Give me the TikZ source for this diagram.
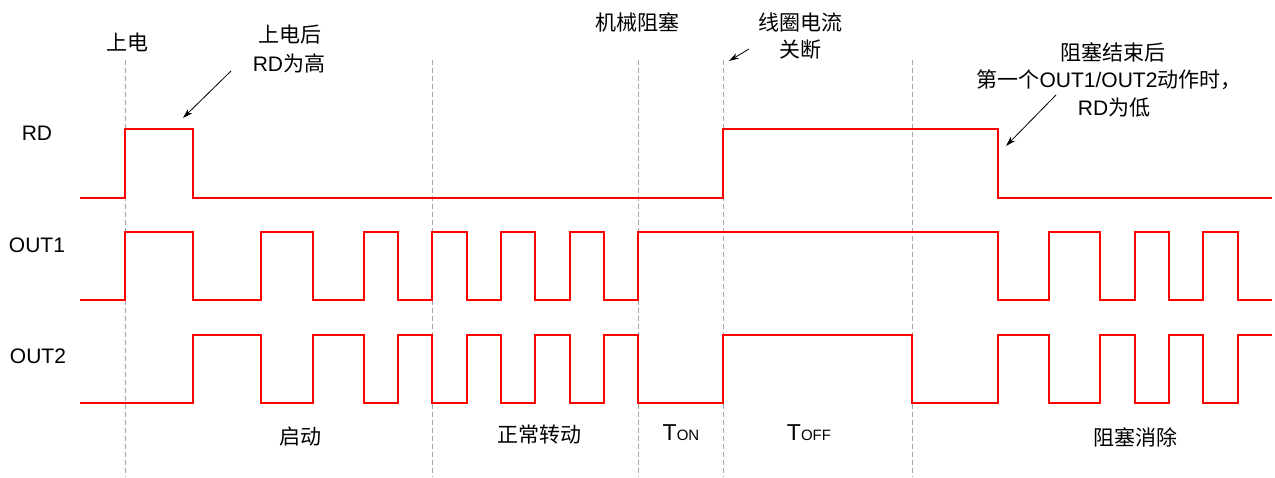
\documentclass[tikz,border=0pt]{standalone}
\usepackage{fontspec}
\setmainfont{Liberation Sans}
\newfontfamily\cjk{Noto Sans CJK SC}
\usetikzlibrary{arrows.meta}
\begin{document}
\begin{tikzpicture}[x=1pt,y=-1pt,
  wave/.style={red, line width=1.2pt},
  guide/.style={draw=black!35, dash pattern=on 5pt off 3pt, line width=0.8pt},
  lbl/.style={font=\fontsize{21}{24}\selectfont, inner sep=0pt},
  note/.style={-{Stealth[length=10pt,width=6pt]}, line width=0.8pt, black}]
\useasboundingbox (0,0) rectangle (1275,477);
% guide lines
\foreach \x/\n in {125/ga,432/gb,638/gc,723/gd,912/ge}{
  \coordinate (\n t) at (\x,60);
  \coordinate (\n b) at (\x,477);
  \draw[guide] (\n t) -- (\n b);
}
% waveforms
\draw[wave] (80,198) -| (125,129) -| (193,198) -| (723,129) -| (998,198) -- (1272,198);
\draw[wave] (80,300) -| (125,232) -| (193,300) -| (261,232) -| (313,300) -| (364,232) -| (398,300)
  -| (432,232) -| (467,300) -| (501,232) -| (535,300) -| (570,232) -| (604,300) -| (638,232)
  -| (998,300) -| (1049,232) -| (1100,300) -| (1135,232) -| (1169,300) -| (1203,232) -| (1238,300) -- (1272,300);
\draw[wave] (80,403) -| (193,335) -| (261,403) -| (313,335) -| (364,403) -| (398,335)
  -| (432,403) -| (467,335) -| (501,403) -| (535,335) -| (570,403) -| (604,335) -| (638,403)
  -| (723,335) -| (912,403) -| (998,335) -| (1049,403) -| (1100,335) -| (1135,403) -| (1169,335) -| (1203,403) -| (1238,335) -- (1272,335);
% signal names
\node[lbl] (rd) at (37,133) {RD};
\node[lbl] (o1) at (37,245) {OUT1};
\node[lbl] (o2) at (38,356) {OUT2};
% top annotations
\node[lbl] (pw) at (127,42) {\cjk 上电};
\node[lbl] (pwa) at (290,35) {\cjk 上电后};
\node[lbl] (pwb) at (289,63) {RD{\cjk 为高}};
\node[lbl] (jam) at (637,22) {\cjk 机械阻塞};
\node[lbl] (coa) at (800,22) {\cjk 线圈电流};
\node[lbl] (cob) at (800,50) {\cjk 关断};
\node[lbl] (ena) at (1113,52) {\cjk 阻塞结束后};
\node[lbl] (enb) at (1109,80) {{\cjk 第一个}OUT1/OUT2{\cjk 动作时，}};
\node[lbl] (enc) at (1114,108) {RD{\cjk 为低}};
% bottom annotations
\node[lbl] (st) at (300,437) {\cjk 启动};
\node[lbl] (nr) at (539,435) {\cjk 正常转动};
\node[lbl] (ton) at (681,433) {{\fontsize{23}{24}\selectfont T}{\fontsize{15}{16}\selectfont ON}};
\node[lbl] (toff) at (809,433) {{\fontsize{23}{24}\selectfont T}{\fontsize{15}{16}\selectfont OFF}};
\node[lbl] (cl) at (1135,437) {\cjk 阻塞消除};
% arrows
\coordinate (a1s) at (231,71); \coordinate (a1e) at (183,118);
\coordinate (a2s) at (749,49); \coordinate (a2e) at (729,61);
\coordinate (a3s) at (1056,95); \coordinate (a3e) at (1006,146);
\draw[note] (a1s) -- (a1e);
\draw[note] (a2s) -- (a2e);
\draw[note] (a3s) -- (a3e);
\end{tikzpicture}
\end{document}
